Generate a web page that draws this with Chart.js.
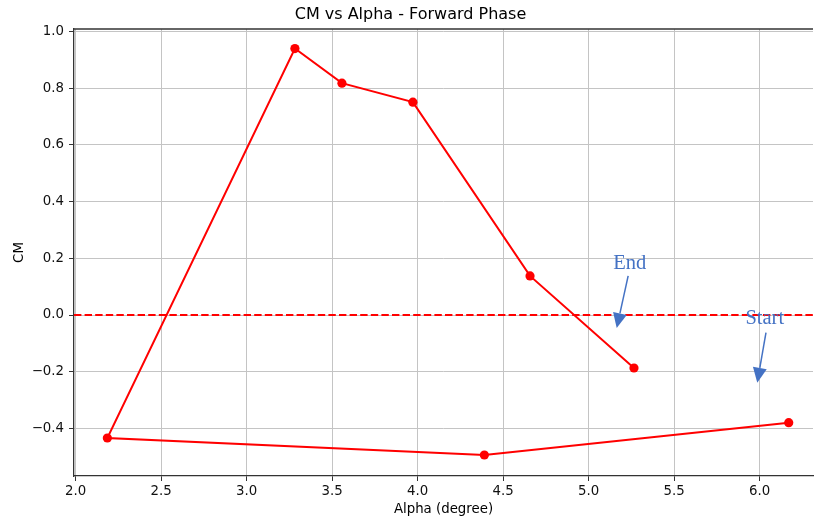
<!DOCTYPE html>
<html><head><meta charset="utf-8">
<script src="https://cdn.jsdelivr.net/npm/chart.js@4.4.0/dist/chart.umd.min.js"></script>
<style>html,body{margin:0;padding:0;background:#fff;overflow:hidden}</style>
</head><body>
<canvas id="c" width="814" height="519"></canvas>
<script>
// ---- data ----
const alphaDeg = [6.17, 4.39, 2.185, 3.282, 3.557, 3.972, 4.657, 5.265];
const cmValues = [-0.380, -0.494, -0.434, 0.940, 0.818, 0.751, 0.138, -0.187];
const xTickValues = [2.0, 2.5, 3.0, 3.5, 4.0, 4.5, 5.0, 5.5, 6.0];
const yTickValues = [-0.4, -0.2, 0.0, 0.2, 0.4, 0.6, 0.8, 1.0];
const xLimits = [1.990, 6.312];
const yLimits = [-0.568, 1.009];
const refLineY = 0.0;
// annotations (data coordinates)
const annTexts = ['End', 'Start'];
const annTextX = [5.24, 6.03];
const annTextY = [0.180, -0.014];
const annTailX = [5.231, 6.037];
const annTailY = [0.138, -0.062];
const annTipX = [5.164, 5.986];
const annTipY = [-0.046, -0.239];

const fmt = v => (v < 0 ? '\u2212' : '') + Math.abs(v).toFixed(1);
const FONT = "'DejaVu Sans', sans-serif";
const annColor = '#4472C4';

const extras = {
  id: 'extras',
  beforeDatasetsDraw(chart) {
    const {ctx, chartArea: a, scales: {y}} = chart;
    const py = y.getPixelForValue(refLineY);
    ctx.save();
    ctx.strokeStyle = '#ff0000';
    ctx.lineWidth = 2;
    ctx.setLineDash([7.4, 3.2]);
    ctx.beginPath();
    ctx.moveTo(a.left, py);
    ctx.lineTo(a.right, py);
    ctx.stroke();
    ctx.restore();
  },
  afterDraw(chart) {
    const {ctx, chartArea: a, scales: {x, y}} = chart;
    ctx.save();
    // top spine
    ctx.strokeStyle = '#333';
    ctx.lineWidth = 1.3;
    ctx.beginPath();
    ctx.moveTo(a.left, a.top);
    ctx.lineTo(a.right, a.top);
    ctx.stroke();
    // annotations
    ctx.fillStyle = annColor;
    ctx.strokeStyle = annColor;
    ctx.font = "20.5px 'Liberation Serif', serif";
    ctx.textAlign = 'center';
    ctx.textBaseline = 'middle';
    for (let i = 0; i < annTexts.length; i++) {
      ctx.fillText(annTexts[i], x.getPixelForValue(annTextX[i]), y.getPixelForValue(annTextY[i]));
      const tx = x.getPixelForValue(annTailX[i]), ty = y.getPixelForValue(annTailY[i]);
      const hx = x.getPixelForValue(annTipX[i]), hy = y.getPixelForValue(annTipY[i]);
      const dx = hx - tx, dy = hy - ty, L = Math.hypot(dx, dy);
      const ux = dx / L, uy = dy / L;
      const headLen = 15, headHalf = 7;
      const bx = hx - ux * headLen, by = hy - uy * headLen;
      ctx.lineWidth = 1.5;
      ctx.beginPath();
      ctx.moveTo(tx, ty);
      ctx.lineTo(bx, by);
      ctx.stroke();
      ctx.beginPath();
      ctx.moveTo(hx, hy);
      ctx.lineTo(bx - uy * headHalf, by + ux * headHalf);
      ctx.lineTo(bx + uy * headHalf, by - ux * headHalf);
      ctx.closePath();
      ctx.fill();
    }
    ctx.restore();
  }
};

new Chart(document.getElementById('c'), {
  type: 'line',
  data: {
    datasets: [{
      data: alphaDeg.map((a, i) => ({x: a, y: cmValues[i]})),
      borderColor: '#ff0000',
      backgroundColor: '#ff0000',
      borderWidth: 2,
      pointRadius: 4.6,
      pointBorderWidth: 0,
      pointHoverRadius: 4.6,
      tension: 0,
      fill: false
    }]
  },
  options: {
    responsive: false,
    animation: false,
    devicePixelRatio: 1,
    layout: {autoPadding: false, padding: {left: 8, right: 1, top: 0, bottom: 2.5}},
    plugins: {
      legend: {display: false},
      tooltip: {enabled: false},
      title: {
        display: true,
        text: 'CM vs Alpha - Forward Phase',
        color: '#000',
        font: {family: FONT, size: 16, weight: 'normal'},
        padding: {top: 5.5, bottom: 4.3}
      }
    },
    scales: {
      x: {
        type: 'linear',
        min: xLimits[0],
        max: xLimits[1],
        afterBuildTicks: s => { s.ticks = xTickValues.map(v => ({value: v})); },
        afterFit: s => { s.height = 40.5; s.paddingLeft = 0; s.paddingRight = 0; },
        ticks: {callback: v => fmt(v), color: '#111', font: {family: FONT, size: 13.33}, padding: 3, maxRotation: 0, autoSkip: false},
        grid: {color: '#c4c4c4', lineWidth: 1, tickColor: '#333', tickLength: 5},
        border: {display: true, color: '#333', width: 1.3},
        title: {display: true, text: 'Alpha (degree)', color: '#000', font: {family: FONT, size: 13.33}, padding: {top: 0.5, bottom: -1.5}}
      },
      y: {
        type: 'linear',
        min: yLimits[0],
        max: yLimits[1],
        afterBuildTicks: s => { s.ticks = yTickValues.map(v => ({value: v})); },
        afterFit: s => { s.width = 66; s.paddingTop = 0; s.paddingBottom = 0; },
        ticks: {callback: v => fmt(v), color: '#111', font: {family: FONT, size: 13.33}, padding: 5, autoSkip: false},
        grid: {color: '#c4c4c4', lineWidth: 1, tickColor: '#333', tickLength: 5},
        border: {display: true, color: '#333', width: 1.3},
        title: {display: true, text: 'CM', color: '#000', font: {family: FONT, size: 13.33}, padding: {top: 4, bottom: 4}}
      }
    }
  },
  plugins: [extras]
});
</script>
</body></html>
